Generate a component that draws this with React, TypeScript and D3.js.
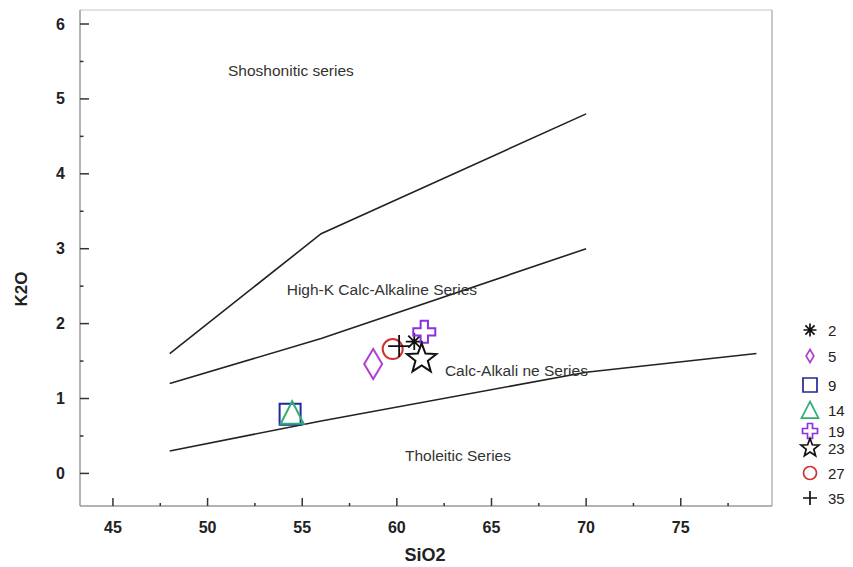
import React from 'react'
import * as d3 from 'd3'

// sample points (SiO2 vs K2O)
const sampleIds = ['2', '5', '9', '14', '19', '23', '27', '35']
const sio2 = [60.92, 58.75, 54.36, 54.47, 61.45, 61.31, 59.78, 60.12]
const k2o = [1.76, 1.46, 0.79, 0.81, 1.89, 1.53, 1.66, 1.7]
const shapes = ['asterisk', 'diamond', 'square', 'triangle', 'cross', 'star', 'circle', 'plus']
const colors = ['#111111', '#b23fd3', '#1f2a9c', '#2fae74', '#8a32e0', '#111111', '#cc3333', '#111111']

// series boundaries (Peccerillo & Taylor)
const shoshoniteLine: [number, number][] = [[48, 1.6], [56, 3.2], [70, 4.8]]
const highKLine: [number, number][] = [[48, 1.2], [56, 1.8], [70, 3.0]]
const tholeiiteLine: [number, number][] = [[48, 0.3], [56, 0.7], [70, 1.35], [79, 1.6]]

const fieldLabels = ['Shoshonitic series', 'High-K Calc-Alkaline Series', 'Calc-Alkali ne Series', 'Tholeitic Series']
const fieldAnchors: [number, number][] = [[51.08, 5.3], [54.18, 2.38], [62.54, 1.3], [60.43, 0.17]]

const xTicks = [45, 50, 55, 60, 65, 70, 75]
const yTicks = [0, 1, 2, 3, 4, 5, 6]

const W = 853
const H = 567
const M = { left: 80, right: 772, top: 10, bottom: 506 }

function markerPath(kind: string, s: number): string {
  const h = s / 2
  switch (kind) {
    case 'circle':
      return d3.symbol(d3.symbolCircle, Math.PI * h * h)() as string
    case 'square':
      return `M${-h},${-h}H${h}V${h}H${-h}Z`
    case 'diamond': {
      const w = s * 0.3
      return `M0,${-h}L${w},0L0,${h}L${-w},0Z`
    }
    case 'triangle':
      return `M0,${-h}L${h},${h * 0.95}L${-h},${h * 0.95}Z`
    case 'cross': {
      const a = s / 6
      return `M${-a},${-h}H${a}V${-a}H${h}V${a}H${a}V${h}H${-a}V${a}H${-h}V${-a}H${-a}Z`
    }
    case 'star': {
      const pts: string[] = []
      for (let i = 0; i < 10; i++) {
        const r = i % 2 === 0 ? h : h * 0.42
        const ang = -Math.PI / 2 + (i * Math.PI) / 5
        pts.push(`${r * Math.cos(ang)},${r * Math.sin(ang)}`)
      }
      return 'M' + pts.join('L') + 'Z'
    }
    case 'plus':
      return `M${-h},0H${h}M0,${-h}V${h}`
    case 'asterisk': {
      const d = h * 0.7071
      return `M${-h},0H${h}M0,${-h}V${h}M${-d},${-d}L${d},${d}M${-d},${d}L${d},${-d}`
    }
  }
  return ''
}

const plotSize: Record<string, number> = {
  asterisk: 17, diamond: 30, square: 21, triangle: 23, cross: 22, star: 31, circle: 20, plus: 22,
}
const legendSize: Record<string, number> = {
  asterisk: 13, diamond: 13, square: 14, triangle: 17, cross: 15, star: 19, circle: 13, plus: 14,
}
const filled = (k: string) => k === 'plus' || k === 'asterisk'

export default function App() {
  const x = d3.scaleLinear().domain([43.26, 79.82]).range([M.left, M.right])
  const y = d3.scaleLinear().domain([-0.435, 6.187]).range([M.bottom, M.top])
  const line = d3.line<[number, number]>().x((d) => x(d[0])).y((d) => y(d[1]))

  const xMinor = d3.range(47.5, 79.5, 5)
  const yMinor = d3.range(0.5, 6, 1)
  const legendY = [330, 356, 385, 410, 431, 448, 473, 498]
  const font = '"Liberation Sans", Arial, sans-serif'

  return (
    <svg width={W} height={H} style={{ position: 'absolute', left: 0, top: 0, background: '#fff' }} fontFamily={font}>
      <rect x={0} y={0} width={W} height={H} fill="#fff" />
      {/* frame */}
      <line x1={M.left} x2={M.right} y1={M.top} y2={M.top} stroke="#e2e2e2" strokeWidth={2} />
      <line x1={M.right} x2={M.right} y1={M.top} y2={M.bottom} stroke="#c8c8c8" strokeWidth={2} />
      <line x1={M.left} x2={M.left} y1={M.top} y2={M.bottom} stroke="#9a9a9a" strokeWidth={1.5} />
      <line x1={M.left} x2={M.right} y1={M.bottom} y2={M.bottom} stroke="#9a9a9a" strokeWidth={1.5} />

      {/* ticks */}
      {xTicks.map((t) => (
        <g key={'xt' + t}>
          <line x1={x(t)} x2={x(t)} y1={M.bottom} y2={M.bottom - 8} stroke="#333" strokeWidth={1.5} />
          <text x={x(t)} y={533} textAnchor="middle" fontSize={16} fontWeight="bold" fill="#222">{t}</text>
        </g>
      ))}
      {xMinor.map((t) => (
        <line key={'xm' + t} x1={x(t)} x2={x(t)} y1={M.bottom} y2={M.bottom - 3} stroke="#333" strokeWidth={1.5} />
      ))}
      {yTicks.map((t) => (
        <g key={'yt' + t}>
          <line x1={M.left} x2={M.left + 9} y1={y(t)} y2={y(t)} stroke="#333" strokeWidth={1.5} />
          <text x={65} y={y(t) + 5.5} textAnchor="end" fontSize={16} fontWeight="bold" fill="#222">{t}</text>
        </g>
      ))}
      {yMinor.map((t) => (
        <line key={'ym' + t} x1={M.left} x2={M.left + 3.5} y1={y(t)} y2={y(t)} stroke="#333" strokeWidth={1.5} />
      ))}

      {/* axis titles */}
      <text x={425} y={561} textAnchor="middle" fontSize={18} fontWeight="bold" fill="#222">SiO2</text>
      <text transform="translate(27,289) rotate(-90)" textAnchor="middle" fontSize={17} fontWeight="bold" fill="#222">K2O</text>

      {/* boundaries */}
      {[shoshoniteLine, highKLine, tholeiiteLine].map((d, i) => (
        <path key={'b' + i} d={line(d) as string} fill="none" stroke="#222" strokeWidth={1.6} />
      ))}

      {/* field labels */}
      {fieldLabels.map((t, i) => (
        <text key={t} x={x(fieldAnchors[i][0])} y={y(fieldAnchors[i][1])} fontSize={15.5} fill="#333">{t}</text>
      ))}

      {/* samples */}
      {sampleIds.map((id, i) => (
        <path
          key={'p' + id}
          transform={`translate(${x(sio2[i])},${y(k2o[i])})`}
          d={markerPath(shapes[i], plotSize[shapes[i]])}
          fill="none"
          stroke={colors[i]}
          strokeWidth={filled(shapes[i]) ? 1.8 : 2}
        />
      ))}

      {/* legend */}
      {sampleIds.map((id, i) => (
        <g key={'l' + id} transform={`translate(810,${legendY[i]})`}>
          <path d={markerPath(shapes[i], legendSize[shapes[i]])} fill="none" stroke={colors[i]} strokeWidth={1.7} />
          <text x={18} y={5.5} fontSize={15} fill="#222">{id}</text>
        </g>
      ))}
    </svg>
  )
}
